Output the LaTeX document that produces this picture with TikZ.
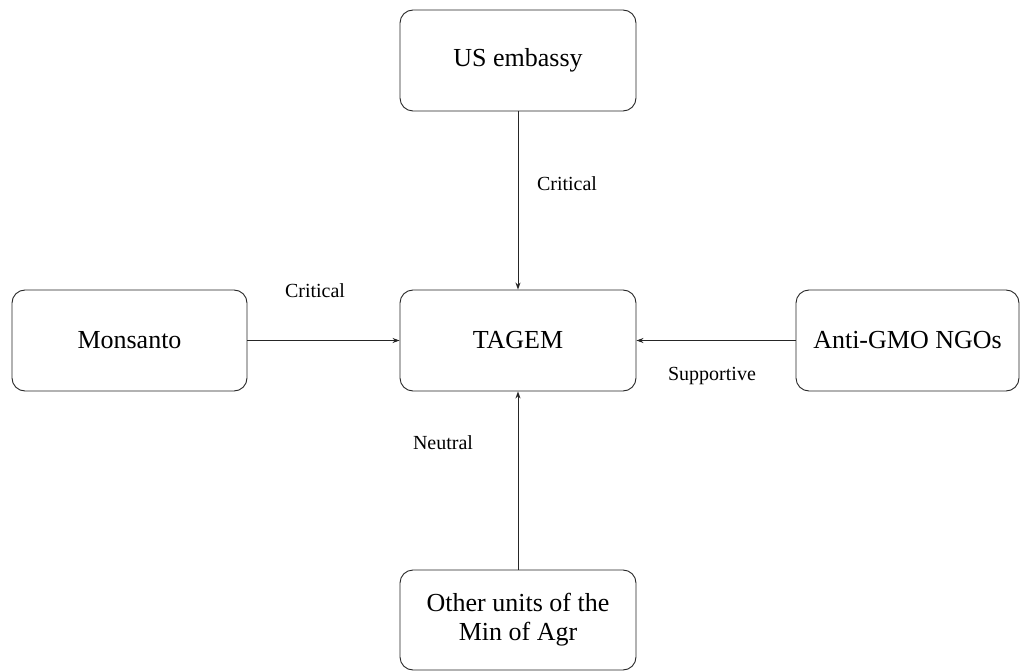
\documentclass[tikz,border=0pt]{standalone}
\usepackage{fontspec}
\setmainfont{Liberation Serif}
\usetikzlibrary{arrows.meta}
\begin{document}
\begin{tikzpicture}[x=1pt,y=-1pt,
  box/.style={draw=black!85, line width=0.9pt, rounded corners=13pt, minimum height=101pt, inner sep=0pt, align=center, font=\fontsize{26}{29}\selectfont},
  conn/.style={draw=black!85, line width=0.9pt, -{Stealth[length=7pt,width=5pt]}},
  lbl/.style={font=\fontsize{20}{24}\selectfont}]
\useasboundingbox (0,0) rectangle (1021,671);
\node[box, minimum width=236pt] (us) at (518,60.5) {US embassy};
\node[box, minimum width=235pt] (mon) at (129.5,340.5) {Monsanto};
\node[box, minimum width=236pt] (tag) at (518,340.5) {TAGEM};
\node[box, minimum width=223pt] (ngo) at (907.5,340.5) {Anti-GMO NGOs};
\node[box, minimum width=236pt, minimum height=100pt] (oth) at (518,620) {Other units of the\\Min of Agr};
\draw[conn] (us) -- (tag);
\draw[conn] (mon) -- (tag);
\draw[conn] (ngo) -- (tag);
\draw[conn] (oth) -- (tag);
\node[lbl] (l1) at (567,184) {Critical};
\node[lbl] (l2) at (315,291) {Critical};
\node[lbl] (l3) at (712,376) {Supportive};
\node[lbl] (l4) at (443,443) {Neutral};
\end{tikzpicture}
\end{document}
